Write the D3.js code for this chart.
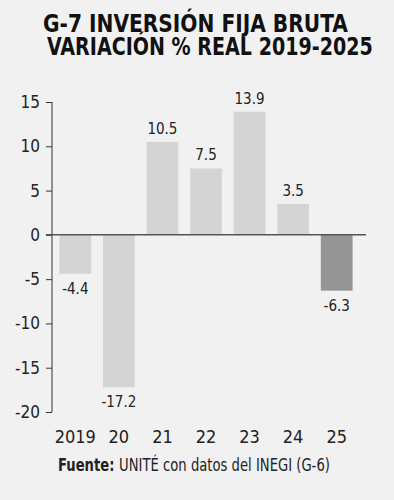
<!DOCTYPE html>
<html>
<head>
<meta charset="utf-8">
<script src="https://cdn.jsdelivr.net/npm/d3@7"></script>
<style>
  body { margin: 0; background: #f1f1f1; }
  svg { display: block; }
  .narrow { font-family: "Liberation Sans Narrow", "DejaVu Sans Condensed", "Roboto", sans-serif; }
</style>
</head>
<body>
<svg id="chart" width="394" height="500"></svg>
<script>
var years  = ['2019', '20', '21', '22', '23', '24', '25'];
var values = [-4.4, -17.2, 10.5, 7.5, 13.9, 3.5, -6.3];
var yTicks = [15, 10, 5, 0, -5, -10, -15, -20];

var W = 394, H = 500;
var svg = d3.select('#chart');

svg.append('rect').attr('width', W).attr('height', H).attr('fill', '#f1f1f1');

var x = d3.scaleBand()
	.domain(years)
	.range([52, 360])
	.paddingInner(0.27)
	.paddingOuter(0.17);

var y = d3.scaleLinear()
	.domain([-20, 15])
	.range([412, 102]);

// squeeze a text horizontally so it spans the given width
var fitWidth = function(sel, x0, y0, w) {
	var len = sel.node().getComputedTextLength();
	var s = w / len;
	sel.attr('x', 0).attr('y', 0)
		.attr('transform', 'translate(' + x0 + ',' + y0 + ') scale(' + s + ',1)');
};

// title
var title = svg.append('g').attr('class', 'narrow')
	.attr('font-weight', 'bold').attr('fill', '#111');
var t1 = title.append('text').attr('font-size', 24).text('G-7 INVERSIÓN FIJA BRUTA');
fitWidth(t1, 43, 32, 305);
var t2 = title.append('text').attr('font-size', 24).text('VARIACIÓN % REAL 2019-2025');
fitWidth(t2, 47, 55, 326);

// bars
svg.append('g').selectAll('rect')
	.data(values)
	.join('rect')
	.attr('x', function(d, i) { return x(years[i]); })
	.attr('width', x.bandwidth())
	.attr('y', function(d) { return y(Math.max(0, d)); })
	.attr('height', function(d) { return Math.abs(y(d) - y(0)); })
	.attr('fill', function(d, i) { return i == values.length - 1 ? '#959595' : '#d4d4d4'; });

// value labels
svg.append('g').attr('class', 'narrow')
	.selectAll('text')
	.data(values)
	.join('text')
	.attr('x', function(d, i) { return x(years[i]) + x.bandwidth() / 2; })
	.attr('y', function(d) { return d >= 0 ? y(d) - 8 : y(d) + 20; })
	.attr('text-anchor', 'middle')
	.attr('font-size', 15)
	.attr('fill', '#222')
	.text(function(d) { return d.toFixed(1); });

// y axis
var yAxis = svg.append('g')
	.attr('class', 'narrow')
	.attr('transform', 'translate(52,0)')
	.call(d3.axisLeft(y).tickValues(yTicks).tickSize(6).tickPadding(6)
		.tickFormat(function(d) { return String(d); }));
yAxis.select('.domain').attr('stroke', '#333').attr('d', 'M0,' + y(15) + 'V' + y(-20));
yAxis.selectAll('.tick line').attr('stroke', '#333');
yAxis.selectAll('.tick text')
	.attr('font-size', 17)
	.attr('fill', '#222');
yAxis.attr('font-family', null);

// zero line
svg.append('line')
	.attr('x1', 46).attr('x2', 366)
	.attr('y1', y(0)).attr('y2', y(0))
	.attr('stroke', '#555').attr('stroke-width', 1.5);

// x labels
svg.append('g').attr('class', 'narrow')
	.selectAll('text')
	.data(years)
	.join('text')
	.attr('x', function(d) { return x(d) + x.bandwidth() / 2; })
	.attr('y', 443)
	.attr('text-anchor', 'middle')
	.attr('font-size', 18)
	.attr('fill', '#222')
	.text(function(d) { return d; });

// source
var src = svg.append('text').attr('class', 'narrow')
	.attr('font-size', 18).attr('fill', '#222');
src.append('tspan').attr('font-weight', 'bold').text('Fuente: ');
src.append('tspan').text('UNITÉ con datos del INEGI (G-6)');
fitWidth(src, 58, 471, 272);
</script>
</body>
</html>
